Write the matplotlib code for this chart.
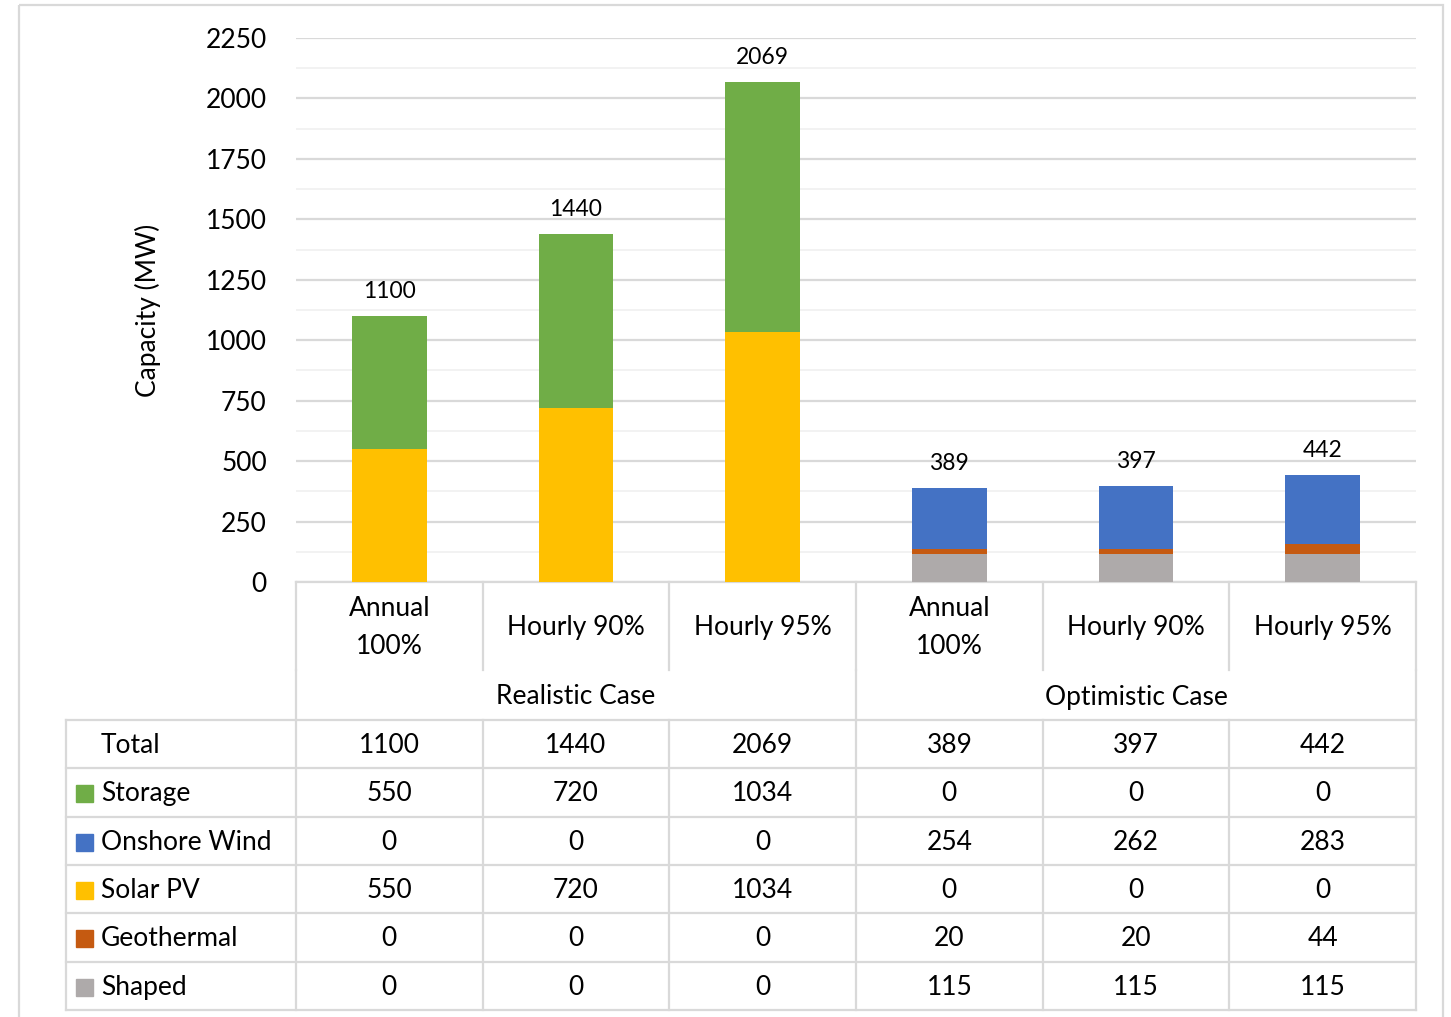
import matplotlib
matplotlib.use("Agg")
import matplotlib.pyplot as plt
from matplotlib.patches import Rectangle

plt.rcParams["font.family"] = ["Lato", "DejaVu Sans"]

# data
scenarios = ["Annual\n100%", "Hourly 90%", "Hourly 95%",
             "Annual\n100%", "Hourly 90%", "Hourly 95%"]
groups = ["Realistic Case", "Optimistic Case"]
totals = [1100, 1440, 2069, 389, 397, 442]
storage = [550, 720, 1034, 0, 0, 0]
onshore_wind = [0, 0, 0, 254, 262, 283]
solar_pv = [550, 720, 1034, 0, 0, 0]
geothermal = [0, 0, 0, 20, 20, 44]
shaped = [0, 0, 0, 115, 115, 115]

# stacking order bottom -> top
series = [
    ("Shaped", shaped, "#AEAAAA"),
    ("Geothermal", geothermal, "#C55A11"),
    ("Solar PV", solar_pv, "#FFC000"),
    ("Onshore Wind", onshore_wind, "#4472C4"),
    ("Storage", storage, "#70AD47"),
]

W, H = 1451, 1017
GRID = "#D9D9D9"
FS = 19

fig = plt.figure(figsize=(W / 100, H / 100), dpi=100)

# overlay axes in pixel coords for the data table and border
tab = fig.add_axes([0, 0, 1, 1])
tab.set_xlim(0, W)
tab.set_ylim(H, 0)
tab.axis("off")

ax_left, ax_right, ax_top, ax_bot = 296, 1416, 38, 582
ax = fig.add_axes([ax_left / W, (H - ax_bot) / H,
                   (ax_right - ax_left) / W, (ax_bot - ax_top) / H])
ax.patch.set_alpha(0)

x = list(range(len(scenarios)))
bottom = [0] * len(x)
for name, vals, color in series:
    ax.bar(x, vals, width=0.4, bottom=bottom, color=color, zorder=3)
    bottom = [b + v for b, v in zip(bottom, vals)]

for i, t in enumerate(totals):
    ax.annotate(str(t), (i, t), xytext=(0, 13), textcoords="offset points",
                ha="center", va="baseline", fontsize=16.5)

ax.set_xlim(-0.5, len(x) - 0.5)
ax.set_ylim(0, 2250)
ax.set_yticks(range(0, 2251, 250))
ax.set_yticks(range(125, 2250, 250), minor=True)
ax.grid(axis="y", which="major", color=GRID, lw=1.6, zorder=0)
ax.grid(axis="y", which="minor", color="#F2F2F2", lw=1.4, zorder=0)
ax.tick_params(axis="y", which="both", length=0, labelsize=FS, pad=21)
ax.set_xticks([])
for sp in ax.spines.values():
    sp.set_visible(False)
ax.set_ylabel("Capacity (MW)", fontsize=FS)
ax.yaxis.set_label_coords((161 - ax_left) / (ax_right - ax_left), 0.5)

# column edges in pixels from the bar axes
def px(xd):
    return ax.transData.transform((xd, 0))[0]

edges = [px(i - 0.5) for i in range(len(x) + 1)]
centers = [px(i) for i in x]

lw = 1.6
# header: category names
tab.plot([edges[0], edges[-1]], [ax_bot, ax_bot], color=GRID, lw=lw)
for e in edges:
    tab.plot([e, e], [ax_bot, 670], color=GRID, lw=lw)
for e in (edges[0], edges[3], edges[6]):
    tab.plot([e, e], [670, 720], color=GRID, lw=lw)
for c, s in zip(centers, scenarios):
    tab.text(c, 628, s, ha="center", va="center", fontsize=FS, linespacing=1.65)
for g, name in enumerate(groups):
    gc = (edges[3 * g] + edges[3 * g + 3]) / 2
    tab.text(gc, 697, name, ha="center", va="center", fontsize=FS)

# table rows
row_top = 720
row_h = 48.3
tbl_left = 66
rows = [("Total", totals, None)] + [(n, v, c) for n, v, c in reversed(series)]
n_rows = len(rows)
for r in range(n_rows + 1):
    y = row_top + r * row_h
    tab.plot([tbl_left, edges[-1]], [y, y], color=GRID, lw=lw)
for e in [tbl_left] + edges:
    tab.plot([e, e], [row_top, row_top + n_rows * row_h], color=GRID, lw=lw)
for r, (name, vals, color) in enumerate(rows):
    yc = row_top + (r + 0.5) * row_h + 1.5
    if color is not None:
        tab.add_patch(Rectangle((76, yc - 8.5), 17, 17, color=color))
    tab.text(101, yc, name, ha="left", va="center", fontsize=FS)
    for c, v in zip(centers, vals):
        tab.text(c, yc, str(v), ha="center", va="center", fontsize=FS)

# chart area border
tab.add_patch(Rectangle((19, 5), 1424, 1030, fill=False, ec=GRID, lw=1.6))

fig.savefig("out.png", dpi=100)
